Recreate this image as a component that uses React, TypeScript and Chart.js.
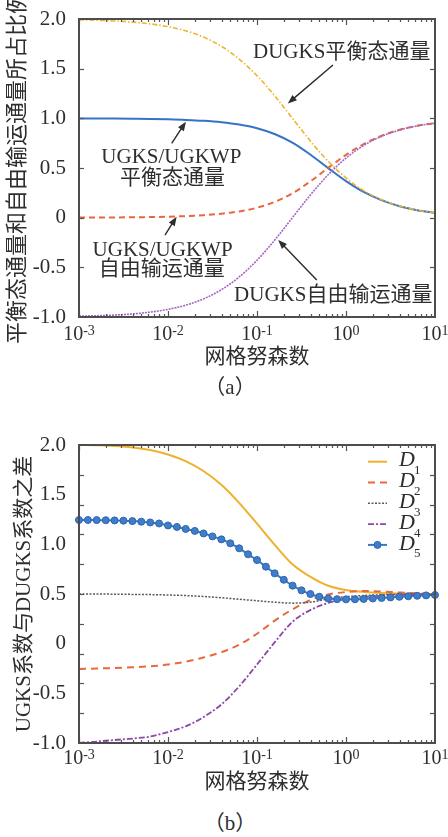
import React, { useEffect, useRef } from 'react';
import { Chart, registerables } from 'chart.js';

Chart.register(...registerables);

// ---------------- data ----------------
// grid Knudsen numbers (x)
const knGrid = [0.001, 0.0016, 0.0025, 0.004, 0.0063, 0.01, 0.016, 0.025, 0.04, 0.063, 0.1, 0.16, 0.25, 0.4, 0.63, 1, 1.6, 2.5, 4, 6.3, 10];

// (a) share of equilibrium / free-transport flux
const dugksEquilibrium = [1.992, 1.987, 1.98, 1.969, 1.951, 1.923, 1.88, 1.818, 1.724, 1.597, 1.429, 1.22, 1.0, 0.769, 0.568, 0.4, 0.27, 0.182, 0.118, 0.076, 0.049];
const ugksEquilibrium = [0.999, 0.998, 0.9975, 0.996, 0.994, 0.99, 0.984, 0.975, 0.96, 0.937, 0.9, 0.84, 0.755, 0.633, 0.499, 0.368, 0.256, 0.176, 0.115, 0.075, 0.048];
const ugksFreeTransport = [0.001, 0.002, 0.0025, 0.004, 0.006, 0.01, 0.016, 0.025, 0.04, 0.063, 0.1, 0.16, 0.245, 0.367, 0.501, 0.632, 0.744, 0.824, 0.885, 0.925, 0.952];
const dugksFreeTransport = [-0.992, -0.987, -0.98, -0.969, -0.951, -0.923, -0.88, -0.818, -0.724, -0.597, -0.429, -0.22, 0.0, 0.231, 0.432, 0.6, 0.73, 0.818, 0.882, 0.924, 0.951];

// (b) coefficient differences
const d1 = [2.0, 1.997, 1.99, 1.976, 1.95, 1.905, 1.835, 1.738, 1.598, 1.418, 1.208, 0.99, 0.8, 0.672, 0.583, 0.54, 0.52, 0.51, 0.505, 0.502, 0.5];
const d2 = [-0.255, -0.25, -0.245, -0.238, -0.228, -0.21, -0.18, -0.14, -0.085, -0.01, 0.1, 0.235, 0.345, 0.44, 0.495, 0.52, 0.53, 0.525, 0.515, 0.507, 0.503];
const d3 = [0.5, 0.5, 0.498, 0.496, 0.494, 0.49, 0.484, 0.475, 0.462, 0.447, 0.432, 0.417, 0.408, 0.418, 0.45, 0.472, 0.485, 0.492, 0.496, 0.498, 0.5];
const d4 = [-1.0, -0.985, -0.97, -0.955, -0.935, -0.89, -0.83, -0.74, -0.61, -0.43, -0.21, 0.02, 0.22, 0.34, 0.41, 0.45, 0.47, 0.482, 0.49, 0.495, 0.497];
const knD5 = [0.001, 0.00126, 0.00158, 0.002, 0.00251, 0.00316, 0.00398, 0.00501, 0.00631, 0.00794, 0.01, 0.0126, 0.0158, 0.02, 0.0251, 0.0316, 0.0398, 0.0501, 0.0631, 0.0794, 0.1, 0.126, 0.158, 0.2, 0.251, 0.316, 0.398, 0.501, 0.631, 0.794, 1, 1.26, 1.58, 2, 2.51, 3.16, 3.98, 5.01, 6.31, 7.94, 10];
const d5 = [1.245, 1.245, 1.244, 1.243, 1.241, 1.238, 1.234, 1.228, 1.22, 1.21, 1.19, 1.175, 1.155, 1.135, 1.11, 1.08, 1.05, 1.01, 0.96, 0.9, 0.842, 0.775, 0.708, 0.643, 0.584, 0.537, 0.5, 0.473, 0.455, 0.448, 0.446, 0.447, 0.45, 0.455, 0.46, 0.466, 0.472, 0.477, 0.482, 0.486, 0.49];
const legendNames = ['D1', 'D2', 'D3', 'D4', 'D5'];

// axis tick labels
const decadeTicks = [0.001, 0.01, 0.1, 1, 10];
const decadeExponents = ['-3', '-2', '-1', '0', '1'];
const yMarksA = [-0.5, 0, 0.5, 1, 1.5];
const yMarksB = [-0.7, -0.4, -0.1, 0.2, 0.5, 0.8, 1.1, 1.4, 1.7];

// (a) annotations in data coordinates
const noteLabels = ['DUGKS平衡态通量', 'UGKS/UGKWP', '平衡态通量', 'UGKS/UGKWP', '自由输运通量', 'DUGKS自由输运通量'];
const noteKn = [0.895, 0.0109, 0.0112, 0.0087, 0.0085, 0.719];
const noteValue = [1.663, 0.601, 0.391, -0.326, -0.517, -0.779];
const arrowStartKn = [0.714, 0.011, 0.00925, 0.469];
const arrowStartValue = [1.537, 0.749, -0.175, -0.628];
const arrowTipKn = [0.222, 0.0159, 0.0125, 0.173];
const arrowTipValue = [1.15, 0.966, 0.01, -0.225];

// ---------------- helpers ----------------
const SERIF = '"Liberation Serif", "Noto Sans CJK SC", serif';
const TEXT = '#2e2e2e';

function series(label: string, xs: number[], ys: number[], color: string, width: number, dash: number[], order: number, extra: any = {}) {
  return {
    label,
    data: xs.map((x, i) => ({ x, y: ys[i] })),
    borderColor: color,
    backgroundColor: color,
    borderWidth: width,
    borderDash: dash,
    pointRadius: 0,
    cubicInterpolationMode: 'monotone',
    fill: false,
    order,
    ...extra,
  };
}

function drawArrow(ctx: CanvasRenderingContext2D, x1: number, y1: number, x2: number, y2: number) {
  const a = Math.atan2(y2 - y1, x2 - x1);
  const hl = 9, hw = 3.5;
  const c = Math.cos(a), s = Math.sin(a);
  ctx.beginPath();
  ctx.moveTo(x1, y1);
  ctx.lineTo(x2 - hl * 0.7 * c, y2 - hl * 0.7 * s);
  ctx.stroke();
  ctx.beginPath();
  ctx.moveTo(x2, y2);
  ctx.lineTo(x2 - hl * c + hw * s, y2 - hl * s - hw * c);
  ctx.lineTo(x2 - hl * c - hw * s, y2 - hl * s + hw * c);
  ctx.closePath();
  ctx.fill();
}

function axesPlugin(yMarks: number[], yTitle: string, yTitleX: number, yTitleSize: number, xTitleY: number, xLabelDy: number) {
  return {
    id: 'axesDecor',
    afterDatasetsDraw(chart: any) {
      const { ctx, chartArea: ca, scales } = chart;
      const xs = scales.x, ys = scales.y;
      ctx.save();
      ctx.strokeStyle = '#555';
      ctx.lineWidth = 1.2;
      const seg = (x1: number, y1: number, x2: number, y2: number) => {
        ctx.beginPath(); ctx.moveTo(x1, y1); ctx.lineTo(x2, y2); ctx.stroke();
      };
      for (let d = -3; d <= 0; d++) {
        for (let m = 1; m <= 9; m++) {
          const px = Math.round(xs.getPixelForValue(m * Math.pow(10, d))) + 0.5;
          const len = m === 1 ? 6 : 3;
          seg(px, ca.bottom, px, ca.bottom - len);
          seg(px, ca.top, px, ca.top + len);
        }
      }
      for (const v of yMarks) {
        const py = Math.round(ys.getPixelForValue(v)) + 0.5;
        seg(ca.left, py, ca.left + 5, py);
        seg(ca.right, py, ca.right - 5, py);
      }
      ctx.lineWidth = 2;
      ctx.strokeStyle = '#4d4d4d';
      ctx.strokeRect(ca.left, ca.top, ca.right - ca.left, ca.bottom - ca.top);

      // x tick labels 10^n
      ctx.fillStyle = TEXT;
      ctx.textBaseline = 'middle';
      ctx.textAlign = 'left';
      decadeTicks.forEach((v, i) => {
        const px = xs.getPixelForValue(v);
        ctx.font = `20px ${SERIF}`;
        const wb = ctx.measureText('10').width;
        ctx.font = `14px ${SERIF}`;
        const we = ctx.measureText(decadeExponents[i]).width;
        const left = px - (wb + we) / 2;
        const cy = ca.bottom + xLabelDy;
        ctx.font = `20px ${SERIF}`;
        ctx.fillText('10', left, cy);
        ctx.font = `14px ${SERIF}`;
        ctx.fillText(decadeExponents[i], left + wb, cy - 4);
      });

      // axis titles
      ctx.textAlign = 'center';
      ctx.font = `21px ${SERIF}`;
      ctx.fillText('网格努森数', (ca.left + ca.right) / 2, xTitleY);
      ctx.save();
      ctx.translate(yTitleX, (ca.top + ca.bottom) / 2);
      ctx.rotate(-Math.PI / 2);
      ctx.font = `${yTitleSize}px ${SERIF}`;
      ctx.fillText(yTitle, 0, 0);
      ctx.restore();
      ctx.restore();
    },
  };
}

const notesPlugin = {
  id: 'notes',
  afterDatasetsDraw(chart: any) {
    const { ctx, scales } = chart;
    const xs = scales.x, ys = scales.y;
    ctx.save();
    ctx.fillStyle = TEXT;
    ctx.strokeStyle = '#2a2a2a';
    ctx.lineWidth = 1.4;
    ctx.font = `21px ${SERIF}`;
    ctx.textAlign = 'center';
    ctx.textBaseline = 'middle';
    noteLabels.forEach((t, i) => {
      ctx.fillText(t, xs.getPixelForValue(noteKn[i]), ys.getPixelForValue(noteValue[i]));
    });
    arrowStartKn.forEach((k, i) => {
      drawArrow(ctx,
        xs.getPixelForValue(k), ys.getPixelForValue(arrowStartValue[i]),
        xs.getPixelForValue(arrowTipKn[i]), ys.getPixelForValue(arrowTipValue[i]));
    });
    ctx.restore();
  },
};

const legendPlugin = {
  id: 'customLegend',
  afterDatasetsDraw(chart: any) {
    const { ctx, chartArea: ca } = chart;
    const sets = chart.data.datasets;
    ctx.save();
    legendNames.forEach((name, i) => {
      const ds = sets.find((s: any) => s.label === name);
      const y = ca.top + 16.7 + i * 20.8;
      const x1 = ca.right - 67, x2 = ca.right - 48;
      ctx.strokeStyle = ds.borderColor;
      ctx.lineWidth = ds.borderWidth;
      ctx.setLineDash(ds.borderDash || []);
      ctx.beginPath(); ctx.moveTo(x1, y); ctx.lineTo(x2, y); ctx.stroke();
      ctx.setLineDash([]);
      if (ds.pointRadius > 0) {
        ctx.fillStyle = ds.pointBackgroundColor;
        ctx.strokeStyle = ds.pointBorderColor;
        ctx.lineWidth = 1;
        ctx.beginPath(); ctx.arc((x1 + x2) / 2, y, ds.pointRadius, 0, Math.PI * 2); ctx.fill(); ctx.stroke();
      }
      ctx.fillStyle = TEXT;
      ctx.textBaseline = 'middle';
      ctx.textAlign = 'left';
      ctx.font = `italic 22px ${SERIF}`;
      const tx = ca.right - 36;
      ctx.fillText(name.charAt(0), tx, y - 1);
      const w = ctx.measureText(name.charAt(0)).width;
      ctx.font = `13px ${SERIF}`;
      ctx.fillText(name.slice(1), tx + w - 1, y + 9);
    });
    ctx.restore();
  },
};

function baseOptions(padTop: number, xAxisHeight: number) {
  return {
    responsive: false,
    animation: false,
    devicePixelRatio: 1,
    events: [],
    layout: { padding: { top: padTop, right: 13, left: 0, bottom: 0 } },
    plugins: { legend: { display: false }, tooltip: { enabled: false }, title: { display: false } },
    scales: {
      x: {
        type: 'logarithmic',
        min: 0.001,
        max: 10,
        ticks: { display: false },
        grid: { display: false },
        border: { display: false },
        afterFit: (s: any) => { s.height = xAxisHeight; },
      },
      y: {
        type: 'linear',
        min: -1,
        max: 2,
        ticks: {
          stepSize: 0.5,
          autoSkip: false,
          padding: 5,
          color: TEXT,
          font: { family: SERIF, size: 21 },
          callback: (v: number) => (Math.abs(v) < 1e-9 ? '0' : Number(v).toFixed(1)),
        },
        grid: { display: false },
        border: { display: false },
        afterFit: (s: any) => { s.width = 79; },
      },
    },
  };
}

export default function App() {
  const refA = useRef<HTMLCanvasElement>(null);
  const refB = useRef<HTMLCanvasElement>(null);

  useEffect(() => {
    const chartA = new Chart(refA.current as HTMLCanvasElement, {
      type: 'line',
      data: {
        datasets: [
          series('UGKS平衡态通量', knGrid, ugksEquilibrium, '#3574c4', 2, [], 4),
          series('UGKS自由输运通量', knGrid, ugksFreeTransport, '#e8673c', 2, [6, 4], 3),
          series('DUGKS平衡态通量', knGrid, dugksEquilibrium, '#efb430', 1.6, [5, 2, 1.5, 2], 2),
          series('DUGKS自由输运通量', knGrid, dugksFreeTransport, '#a566c6', 1.6, [2, 1], 1),
        ],
      },
      options: baseOptions(19, 83) as any,
      plugins: [axesPlugin(yMarksA, '平衡态通量和自由输运通量所占比例', 18.5, 22, 357, 18), notesPlugin],
    } as any);

    const chartB = new Chart(refB.current as HTMLCanvasElement, {
      type: 'line',
      data: {
        datasets: [
          series('D1', knGrid, d1, '#efb02e', 2, [], 4),
          series('D2', knGrid, d2, '#e8693d', 2, [7, 5], 3),
          series('D3', knGrid, d3, '#5a5a5a', 1.5, [2, 1.5], 2),
          series('D4', knGrid, d4, '#8c47a8', 1.8, [6, 2, 2, 2], 1),
          series('D5', knD5, d5, '#3a78c5', 2, [], 0, {
            pointRadius: 3.5,
            pointBackgroundColor: '#3f7dca',
            pointBorderColor: '#2d65ad',
            pointBorderWidth: 1,
            clip: false,
          }),
        ],
      },
      options: baseOptions(45, 57) as any,
      plugins: [axesPlugin(yMarksB, 'UGKS系数与DUGKS系数之差', 24, 21, 382, 16), legendPlugin],
    } as any);

    return () => { chartA.destroy(); chartB.destroy(); };
  }, []);

  const caption = (top: number): React.CSSProperties => ({
    position: 'absolute', left: 0, top, width: 460, textAlign: 'center',
    fontFamily: SERIF, fontSize: 21, lineHeight: '24px', color: TEXT,
  });

  return (
    <div style={{ position: 'absolute', left: 0, top: 0, width: 448, height: 837, background: '#fff', overflow: 'hidden' }}>
      <canvas ref={refA} width={448} height={400} style={{ position: 'absolute', left: 0, top: 0 }} />
      <canvas ref={refB} width={448} height={400} style={{ position: 'absolute', left: 0, top: 400 }} />
      <div style={caption(375)}>（a）</div>
      <div style={caption(811)}>（b）</div>
    </div>
  );
}
